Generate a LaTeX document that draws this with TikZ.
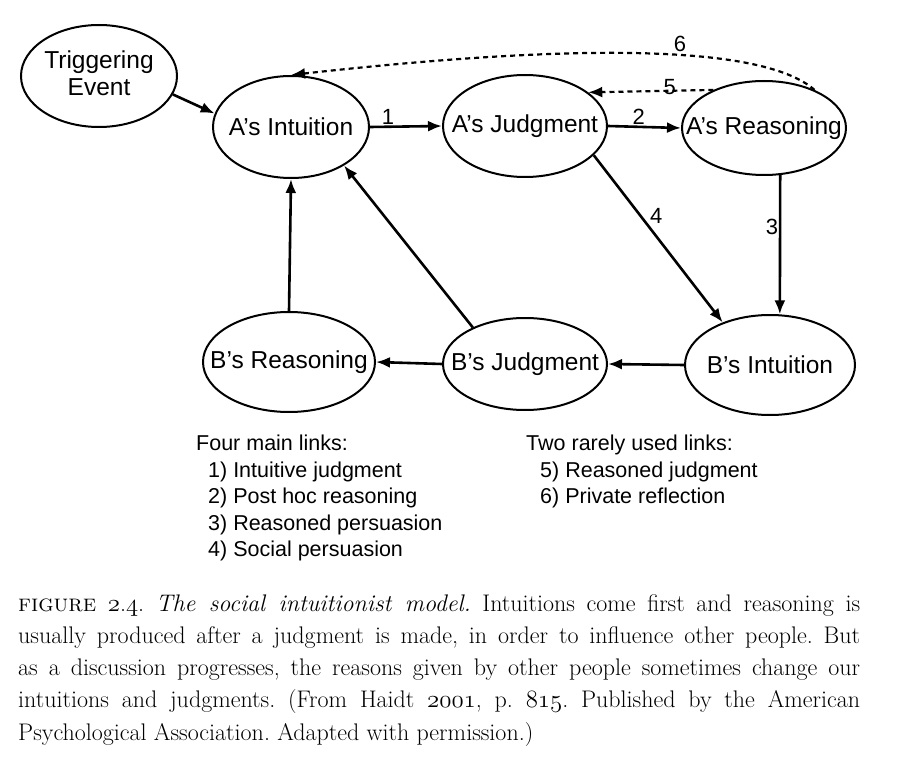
\documentclass[tikz,border=0pt]{standalone}
\usepackage{fontspec}
\newfontfamily\diag{Liberation Sans}
\usetikzlibrary{shapes.geometric,arrows.meta}
\newcommand\zw[1]{\makebox[0pt]{#1}}
\newcommand\osf[1]{{\usefont{OML}{cmm}{m}{it}#1}}
\begin{document}
\begin{tikzpicture}[x=1pt,y=-1pt,
  st/.style={ellipse,draw,line width=2pt,inner sep=0pt,align=center,
    font=\diag\fontsize{24.5}{28}\selectfont},
  link/.style={line width=2.6pt,-{Latex[length=14pt,width=11pt]}},
  dlink/.style={line width=2.2pt,dash pattern=on 5pt off 4pt,-{Latex[length=14pt,width=11pt]}},
  num/.style={font=\diag\fontsize{22}{24}\selectfont,inner sep=1pt},
  leg/.style={anchor=base west,inner sep=0pt,font=\diag\fontsize{21.5}{24}\selectfont}]
\useasboundingbox (0,0) rectangle (900,778);
\fill[white] (0,0) rectangle (900,778);
% nodes
\node[st,minimum width=156pt,minimum height=102pt] (TE) at (99,76) {\zw{\begin{tabular}{@{}c@{}}Triggering\\[-1pt]Event\end{tabular}}};
\node[st,minimum width=156pt,minimum height=102pt] (AI) at (291,127) {\zw{A’s Intuition}};
\node[st,minimum width=164pt,minimum height=102pt] (AJ) at (525,126) {\zw{A’s Judgment}};
\node[st,minimum width=164pt,minimum height=94pt] (AR) at (764,128) {\zw{A’s Reasoning}};
\node[st,minimum width=172pt,minimum height=100pt] (BR) at (289,362) {\zw{B’s Reasoning}};
\node[st,minimum width=164pt,minimum height=92pt] (BJ) at (525,364) {\zw{B’s Judgment}};
\node[st,minimum width=170pt,minimum height=100pt] (BI) at (770,365) {\zw{B’s Intuition}};
% connectors
\draw[link] (TE.-14) -- (AI.170);
\draw[link] (AI.east) -- node[num,above,pos=0.25] (n1) {1} (AJ.west);
\draw[link] (AJ.east) -- node[num,above,pos=0.42] (n2) {2} (AR.west);
\draw[dlink] (AR.143) -- node[num,pos=0.35,yshift=4pt] (n5) {5} (AJ.28);
\draw[dlink] (AR.37) .. controls (760,42) and (560,45) .. (AI.north);
\node[num] (n6) at (680,44) {6};
\draw[link] (AR.-71) -- node[num,pos=0.37,xshift=-8pt] (n3) {3} (BI.79);
\draw[link] (AJ.-23) -- node[num,pos=0.42,above right] (n4) {4} (BI.138);
\draw[link] (BI.west) -- (BJ.east);
\draw[link] (BJ.west) -- (BR.east);
\draw[link] (BR.north) -- (AI.south);
\draw[link] (BJ.145) -- (AI.-36);
% legend
\node[leg] (L1) at (196,450) {Four main links:};
\node[leg] (L2) at (208,477) {1) Intuitive judgment};
\node[leg] (L3) at (208,503) {2) Post hoc reasoning};
\node[leg] (L4) at (208,530) {3) Reasoned persuasion};
\node[leg] (L5) at (208,556) {4) Social persuasion};
\node[leg] (R1) at (526,450) {Two rarely used links:};
\node[leg] (R2) at (540,477) {5) Reasoned judgment};
\node[leg] (R3) at (540,503) {6) Private reflection};
% caption
\node[anchor=north west,inner sep=0pt,text width=842pt,align=justify,
  font=\fontsize{24}{32.3}\selectfont\frenchspacing] (cap) at (18,594)
  {\textsc{figure} \osf{2}.\osf{4}. \textit{The social intuitionist model.} Intuitions come first and reasoning is\linebreak
  usually produced after a judgment is made, in order to influence other people. But\linebreak
  as a discussion progresses, the reasons given by other people sometimes change our\linebreak
  intuitions and judgments. (From Haidt \osf{2001}, p.~\osf{815}. Published by the American\linebreak
  Psychological Association. Adapted with permission.)};
\end{tikzpicture}
\end{document}
